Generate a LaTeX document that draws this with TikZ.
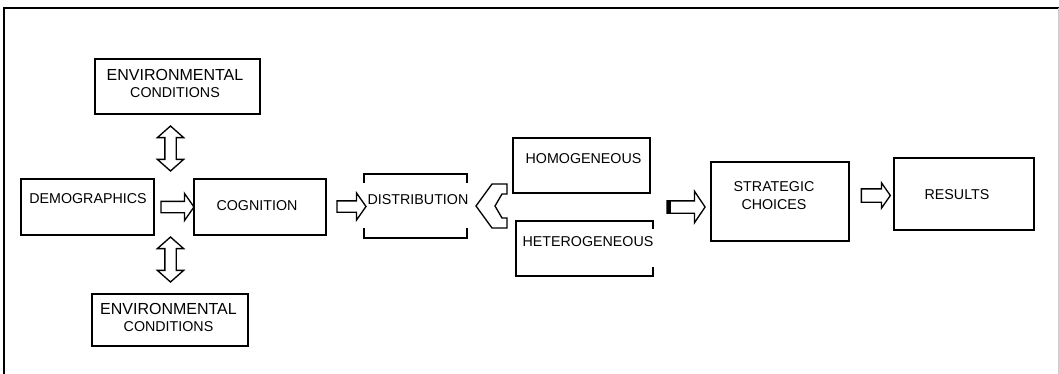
\documentclass[tikz,border=0pt]{standalone}
\usepackage{fontspec}
\setmainfont{Liberation Sans}
\usetikzlibrary{shapes.arrows}
\newcommand{\px}{0.75pt}

\begin{document}
\begin{tikzpicture}[x=0.75pt, y=-0.75pt,
    box/.style={rectangle, draw, line width=1.4pt, outer sep=0pt, inner sep=0pt},
    openbox/.style={box, draw=none},
    txt/.style={font=\fontsize{10.7}{13.1}\selectfont, inner sep=0pt, align=center},
    blockarrow/.style={single arrow, draw, line width=1pt, fill=white, outer sep=0pt,
                       inner xsep=0pt, inner ysep=5*\px, single arrow head extend=8*\px,
                       single arrow tip angle=110},
    vertarrow/.style={double arrow, draw, line width=1pt, fill=white, outer sep=0pt,
                      inner xsep=0pt, inner ysep=5*\px, double arrow head extend=7.5*\px,
                      double arrow tip angle=97, minimum height=45*\px, rotate=90}]
    \useasboundingbox (0,0) rectangle (1059,374);

    % frame
    \draw[line width=1.5pt] (4,374) -- (4,8) -- (1059,8);
    \draw[black!20] (1058,8) -- (1058,374);

    % boxes
    \node[box, minimum width=165*\px, minimum height=55*\px] (envtop) at (177.5,86.5) {};
    \node[box, minimum width=133*\px, minimum height=56*\px] (demo) at (87.5,207) {};
    \node[box, minimum width=132*\px, minimum height=56*\px] (cog) at (260,207) {};
    \node[box, minimum width=156*\px, minimum height=52*\px] (envbot) at (170,320) {};
    \node[openbox, minimum width=103*\px, minimum height=64*\px] (dist) at (415.5,206) {};
    \node[box, minimum width=137*\px, minimum height=55*\px] (homo) at (581.5,165.5) {};
    \node[openbox, minimum width=137*\px, minimum height=55*\px] (hetero) at (584.5,248.5) {};
    \node[box, minimum width=138*\px, minimum height=79*\px] (strat) at (780,201.5) {};
    \node[box, minimum width=140*\px, minimum height=72*\px] (res) at (964,194) {};

    % broken sides
    \draw[line width=1.4pt] (dist.north west) ++(0,9) -- (dist.north west) -- (dist.north east) -- ++(0,9);
    \draw[line width=1.4pt] (dist.south west) ++(0,-10) -- (dist.south west) -- (dist.south east) -- ++(0,-10);
    \draw[line width=1.4pt] (hetero.north east) ++(0,8) -- (hetero.north east) -- (hetero.north west)
        -- (hetero.south west) -- (hetero.south east) -- ++(0,-9);

    % texts
    \node[txt] (envtoptxt) at (175,83.5) {{\fontsize{12}{13}\selectfont ENVIRONMENTAL}\\CONDITIONS};
    \node[txt] (demotxt) at (88,199) {DEMOGRAPHICS};
    \node[txt] (cogtxt) at (257,206) {COGNITION};
    \node[txt] (envbottxt) at (168.5,317.5) {{\fontsize{12}{13}\selectfont ENVIRONMENTAL}\\CONDITIONS};
    \node[txt] (disttxt) at (418,200) {DISTRIBUTION};
    \node[txt] (homotxt) at (583.5,159) {HOMOGENEOUS};
    \node[txt] (heterotxt) at (588,242) {HETEROGENEOUS};
    \node[txt] (strattxt) at (774,195.5) {STRATEGIC\\CHOICES};
    \node[txt] (restxt) at (957,195) {RESULTS};

    % block arrows
    \node[vertarrow] (uparr) at (170.5,148.5) {};
    \node[vertarrow] (downarr) at (170.5,259.5) {};
    \node[blockarrow, minimum height=33*\px] (democog) at (175.5,207) {};
    \node[blockarrow, minimum height=29*\px] (cogdist) at (349.5,206.5) {};
    \node[blockarrow, minimum height=38*\px, inner ysep=5.5*\px,
          single arrow head extend=9.5*\px, single arrow tip angle=112] (stratarr) at (684,207) {};
    \fill (stratarr.before tail) rectangle ([xshift=4*\px]stratarr.after tail);
    \node[blockarrow, minimum height=29*\px, inner ysep=6*\px,
          single arrow head extend=6*\px] (resarr) at (873.5,195.5) {};

    % branching arrow
    \draw[line width=1pt, fill=white] (476,206) -- (492,184) -- (507,184) -- (507,194) -- (502,194)
        -- (495,206) -- (502,218) -- (507,218) -- (507,228) -- (492,228) -- cycle;
\end{tikzpicture}
\end{document}
